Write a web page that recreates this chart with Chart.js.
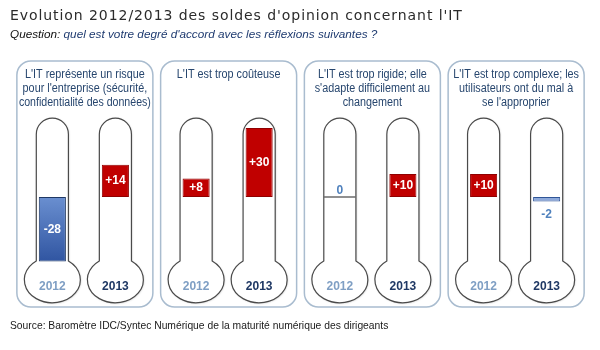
<!DOCTYPE html>
<html lang="fr">
<head>
<meta charset="utf-8">
<script src="https://cdn.jsdelivr.net/npm/chart.js@4"></script>
<style>
html, body { margin: 0; padding: 0; background: #fff; }
#wrap { width: 600px; height: 350px; position: relative; }
</style>
</head>
<body>
<div id="wrap"><canvas id="myChart"></canvas></div>
<script>
// texts
const chartTitle = "Evolution 2012/2013 des soldes d'opinion concernant l'IT";
const questionLead = "Question:";
const questionText = " quel est votre degré d'accord avec les réflexions suivantes ?";
const sourceText = "Source: Baromètre IDC/Syntec Numérique de la maturité numérique des dirigeants";

// data
const themes = ['risque', 'coût', 'rigidité', 'complexité'];
const themeLines = [
    ["L'IT représente un risque", "pour l'entreprise (sécurité,", "confidentialité des données)"],
    ["L'IT est trop coûteuse"],
    ["L'IT est trop rigide; elle", "s'adapte difficilement au", "changement"],
    ["L'IT est trop complexe; les", "utilisateurs ont du mal à", "se l'approprier"]
];
const years = ['2012', '2013'];
const soldes2012 = [-28, 8, 0, 10];
const soldes2013 = [14, 30, 10, -2];

const RED = '#c00000';
const yearColors = ['#7f9fc4', '#1f3864'];

function fmt(v) {
    return v > 0 ? '+' + v : String(v);
}

function barFill(ctx) {
    const v = ctx.raw;
    if (v >= 0) return RED;
    if (v > -5) return '#8eaadb';
    const chart = ctx.chart;
    const y = chart.scales.y;
    const top = y ? y.getPixelForValue(0) : NaN;
    const bot = y ? y.getPixelForValue(-30) : NaN;
    if (!isFinite(top) || !isFinite(bot)) return '#3e66b0';
    const g = chart.ctx.createLinearGradient(0, top, 0, bot);
    g.addColorStop(0, '#6a8fd0');
    g.addColorStop(1, '#2c519e');
    return g;
}

function thermoPath(ctx, cx, yTop, yBulb, hw, rx, ry) {
    const phi = Math.acos(hw / rx);
    const yNeck = yBulb - ry * Math.sin(phi);
    ctx.beginPath();
    ctx.moveTo(cx - hw, yNeck);
    ctx.lineTo(cx - hw, yTop + hw);
    ctx.arc(cx, yTop + hw, hw, Math.PI, 0);
    ctx.lineTo(cx + hw, yNeck);
    ctx.ellipse(cx, yBulb, rx, ry, 0, -phi, Math.PI + phi);
    ctx.closePath();
}

function roundRect(ctx, x, y, w, h, r) {
    ctx.beginPath();
    ctx.moveTo(x + r, y);
    ctx.arcTo(x + w, y, x + w, y + h, r);
    ctx.arcTo(x + w, y + h, x, y + h, r);
    ctx.arcTo(x, y + h, x, y, r);
    ctx.arcTo(x, y, x + w, y, r);
    ctx.closePath();
}

const thermoPlugin = {
    id: 'thermo',
    beforeDatasetsDraw(chart) {
        const ctx = chart.ctx;
        const xs = chart.scales.x, ys = chart.scales.y;

        // panels + titles
        themes.forEach((t, i) => {
            const cx = xs.getPixelForValue(i) + 1;
            ctx.save();
            roundRect(ctx, cx - 68, 61, 136, 246, 14);
            ctx.fillStyle = '#fff';
            ctx.fill();
            ctx.lineWidth = 1.5;
            ctx.strokeStyle = '#a9bccf';
            ctx.stroke();
            ctx.fillStyle = '#27466e';
            ctx.font = '12px "Liberation Sans", Arial, sans-serif';
            ctx.textAlign = 'center';
            ctx.textBaseline = 'middle';
            themeLines[i].forEach((line, k) => {
                const w = ctx.measureText(line).width;
                ctx.fillText(line, cx, 75 + k * 14, Math.min(w * 0.9, 132));
            });
            ctx.restore();
        });

        // thermometers
        const yTop = ys.getPixelForValue(34.3);
        const yBulb = ys.getPixelForValue(-36);
        chart.data.datasets.forEach((ds, d) => {
            const meta = chart.getDatasetMeta(d);
            meta.data.forEach((el, i) => {
                const hw = el.width / 2 + 2.5;
                ctx.save();
                thermoPath(ctx, el.x, yTop, yBulb, hw, 28, 23);
                ctx.fillStyle = '#fff';
                ctx.shadowColor = 'rgba(0,0,0,0.25)';
                ctx.shadowBlur = 2;
                ctx.shadowOffsetX = 0.5;
                ctx.shadowOffsetY = 0.5;
                ctx.fill();
                ctx.shadowColor = 'transparent';
                ctx.lineWidth = 1.2;
                ctx.strokeStyle = '#4a4a4a';
                ctx.stroke();

                ctx.fillStyle = yearColors[d];
                ctx.font = 'bold 12px "Liberation Sans", Arial, sans-serif';
                ctx.textAlign = 'center';
                ctx.textBaseline = 'middle';
                ctx.fillText(years[d], el.x, yBulb + 7);

                if (ds.data[i] === 0) {
                    const y0 = ys.getPixelForValue(0);
                    ctx.beginPath();
                    ctx.moveTo(el.x - hw, y0);
                    ctx.lineTo(el.x + hw, y0);
                    ctx.lineWidth = 1.5;
                    ctx.strokeStyle = '#6b6b6b';
                    ctx.stroke();
                }
                ctx.restore();
            });
        });
    },
    afterDatasetsDraw(chart) {
        const ctx = chart.ctx;
        const ys = chart.scales.y;
        const y0 = ys.getPixelForValue(0);
        chart.data.datasets.forEach((ds, d) => {
            const meta = chart.getDatasetMeta(d);
            meta.data.forEach((el, i) => {
                const v = ds.data[i];
                ctx.save();
                ctx.font = 'bold 12px "Liberation Sans", Arial, sans-serif';
                ctx.textAlign = 'center';
                ctx.textBaseline = 'middle';
                if (v >= 5 || v <= -5) {
                    ctx.fillStyle = '#fff';
                    ctx.fillText(fmt(v), el.x, (el.y + el.base) / 2);
                } else if (v === 0) {
                    ctx.fillStyle = '#4f81bd';
                    ctx.fillText(fmt(v), el.x, y0 - 6);
                } else {
                    ctx.fillStyle = '#4f81bd';
                    ctx.fillText(fmt(v), el.x, el.y + 13);
                }
                ctx.restore();
            });
        });
    },
    afterDraw(chart) {
        const ctx = chart.ctx;
        ctx.save();
        ctx.textBaseline = 'alphabetic';
        ctx.textAlign = 'left';
        // header title with spread letters
        ctx.font = '14px "DejaVu Sans", sans-serif';
        ctx.fillStyle = '#2b2b2b';
        const w0 = ctx.measureText(chartTitle).width;
        const sp = Math.max(0, (452 - w0) / (chartTitle.length - 1));
        ctx.letterSpacing = sp.toFixed(2) + 'px';
        ctx.fillText(chartTitle, 10, 20);
        ctx.letterSpacing = '0px';

        ctx.font = 'italic 11.75px "Liberation Sans", Arial, sans-serif';
        ctx.fillStyle = '#111';
        ctx.fillText(questionLead, 10, 38);
        const lw = ctx.measureText(questionLead).width;
        ctx.fillStyle = '#1f3b70';
        ctx.fillText(questionText, 10 + lw, 38);

        ctx.font = '10.3px "Liberation Sans", Arial, sans-serif';
        ctx.fillStyle = '#1a1a1a';
        ctx.fillText(sourceText, 10, 329);
        ctx.restore();
    }
};

const config = {
    type: 'bar',
    data: {
        labels: themes,
        datasets: [
            {
                label: years[0],
                data: soldes2012,
                backgroundColor: barFill,
                borderColor: ctx => ctx.raw >= 0 ? '#900000' : '#1f3864',
                borderWidth: 1,
                borderSkipped: false
            },
            {
                label: years[1],
                data: soldes2013,
                backgroundColor: barFill,
                borderColor: ctx => ctx.raw >= 0 ? '#900000' : '#2f5597',
                borderWidth: 1,
                borderSkipped: false
            }
        ]
    },
    options: {
        responsive: true,
        maintainAspectRatio: false,
        animation: false,
        categoryPercentage: 0.877,
        barPercentage: 0.43,
        layout: { padding: { left: 12, right: 13, top: 105, bottom: 61 } },
        scales: {
            x: { display: false },
            y: { display: false, min: -40, max: 40 }
        },
        plugins: {
            legend: { display: false },
            tooltip: { enabled: false }
        }
    },
    plugins: [thermoPlugin]
};

const myChart = new Chart(document.getElementById('myChart'), config);
</script>
</body>
</html>
